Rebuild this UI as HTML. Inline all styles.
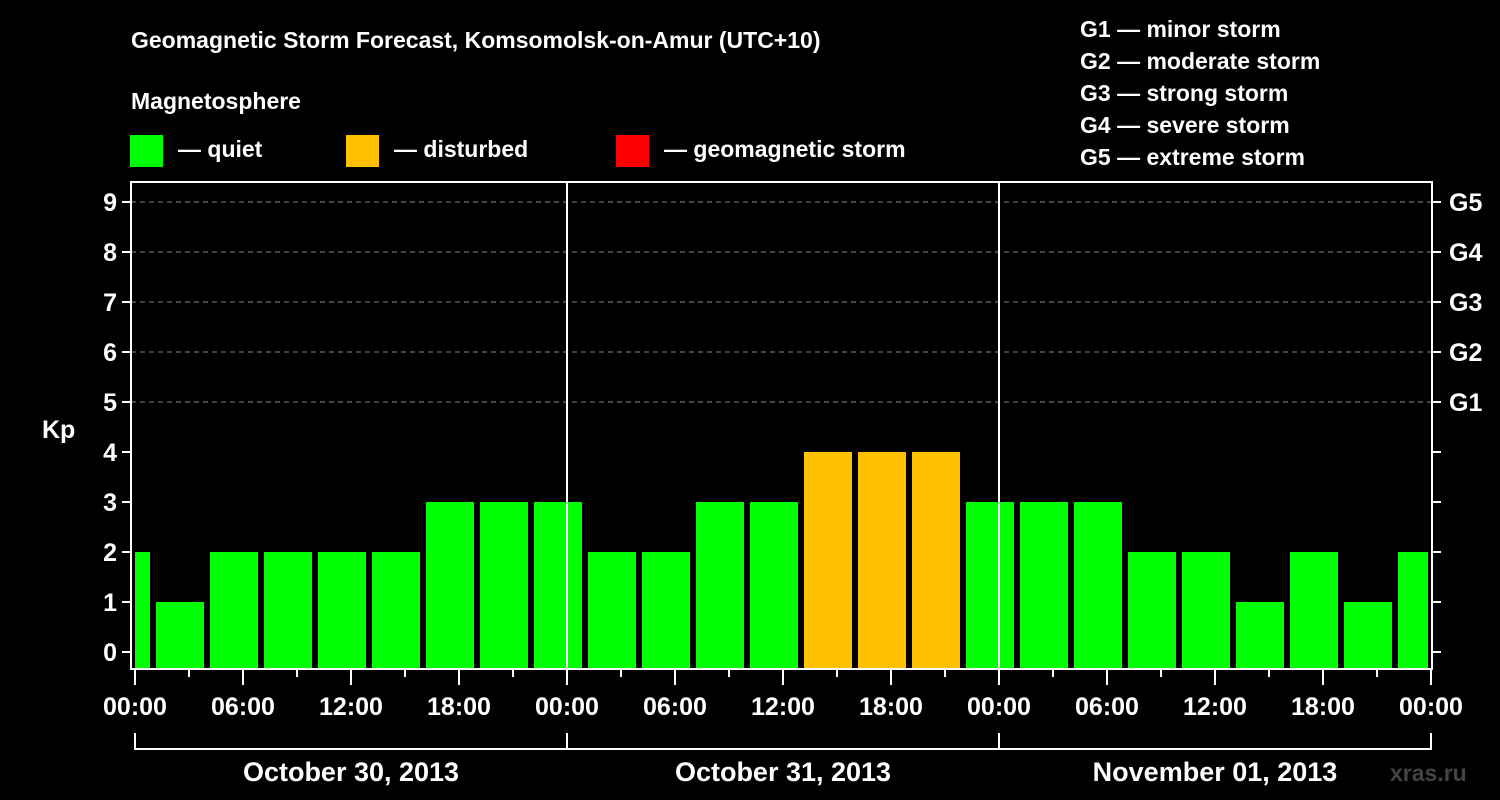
<!DOCTYPE html>
<html><head><meta charset="utf-8"><style>
body{margin:0;background:#000;width:1500px;height:800px;overflow:hidden}
svg{display:block}
text{font-family:"Liberation Sans",sans-serif;font-weight:bold;fill:#fff}
</style></head><body>
<svg id="c" width="1500" height="800">
<text x="131" y="48" font-size="23">Geomagnetic Storm Forecast, Komsomolsk-on-Amur (UTC+10)</text>
<text x="131" y="109" font-size="23">Magnetosphere</text>
<rect x="130" y="135" width="33" height="32" fill="#00ff00"/>
<text x="178" y="157" font-size="23">— quiet</text>
<rect x="346" y="135" width="33" height="32" fill="#ffc000"/>
<text x="394" y="157" font-size="23">— disturbed</text>
<rect x="616" y="135" width="33" height="32" fill="#ff0000"/>
<text x="664" y="157" font-size="23">— geomagnetic storm</text>
<text x="1080" y="37" font-size="23">G1 — minor storm</text>
<text x="1080" y="69" font-size="23">G2 — moderate storm</text>
<text x="1080" y="101" font-size="23">G3 — strong storm</text>
<text x="1080" y="133" font-size="23">G4 — severe storm</text>
<text x="1080" y="165" font-size="23">G5 — extreme storm</text>
<text x="42" y="438" font-size="25">Kp</text>
<text x="1390" y="781" font-size="23" fill="#444" style="fill:#444">xras.ru</text>
<g id="plot"></g>
</svg>
<script>
const kpValues=[2,1,2,2,2,2,3,3,3,2,2,3,3,4,4,4,3,3,3,2,2,1,2,1,2];
const blockStartHours=-2; // first 3-hour block starts at -02:00 local
const yTicks=[0,1,2,3,4,5,6,7,8,9];
const gLabels=["G1","G2","G3","G4","G5"];
const gLevels=[5,6,7,8,9];
const xTickLabels=["00:00","06:00","12:00","18:00","00:00","06:00","12:00","18:00","00:00","06:00","12:00","18:00","00:00"];
const dayLabels=["October 30, 2013","October 31, 2013","November 01, 2013"];

const NS="http://www.w3.org/2000/svg";
const g=document.getElementById('plot');
const X0=135,PXH=18,L=131,R=1432,T=182,B=669;
const xs=h=>X0+h*PXH;
const ys=v=>652-v*50;
function el(tag,attrs){const e=document.createElementNS(NS,tag);for(const k in attrs)e.setAttribute(k,attrs[k]);g.appendChild(e);return e;}
// grid
gLevels.forEach(v=>{const l=el('line',{x1:L,x2:R,y1:ys(v),y2:ys(v),stroke:'#888','stroke-dasharray':'5,4','stroke-width':1});

});
// bars
kpValues.forEach((v,i)=>{
 let a=xs(blockStartHours+i*3)+3,b=xs(blockStartHours+i*3+3)-3;
 a=Math.max(a,X0);b=Math.min(b,1428);
 const col=v>=5?'#ff0000':(v>=4?'#ffc000':'#00ff00');
 const r=el('rect',{x:a,y:ys(v),width:b-a,height:B-ys(v),fill:col});
 
 
});
// day separators
[1,2].forEach(d=>{const l=el('line',{x1:xs(d*24),x2:xs(d*24),y1:T,y2:B,stroke:'#fff','stroke-width':2});

});
// frame
const f=el('rect',{x:L,y:T,width:R-L,height:B-T,fill:'none',stroke:'#fff','stroke-width':2});


// y ticks
yTicks.forEach(v=>{
 el('line',{x1:L-9,x2:L,y1:ys(v),y2:ys(v),stroke:'#fff','stroke-width':2});
 el('line',{x1:R,x2:R+9,y1:ys(v),y2:ys(v),stroke:'#fff','stroke-width':2});
 const t=el('text',{x:L-14,y:ys(v)+9,'font-size':25,'text-anchor':'end'});t.textContent=v;
 
 
});
gLabels.forEach((s,i)=>{const t=el('text',{x:1449,y:ys(gLevels[i])+9,'font-size':25});t.textContent=s;
 
 });
// x ticks
for(let h=0;h<=72;h+=3){const maj=h%6===0;el('line',{x1:xs(h),x2:xs(h),y1:B,y2:B+(maj?16:8),stroke:'#fff','stroke-width':2});}
xTickLabels.forEach((s,i)=>{const t=el('text',{x:xs(i*6),y:715,'font-size':25,'text-anchor':'middle'});t.textContent=s;
 
 });
// day brackets
el('line',{x1:xs(0),x2:xs(72),y1:749,y2:749,stroke:'#fff','stroke-width':2});
[0,24,48,72].forEach(h=>el('line',{x1:xs(h),x2:xs(h),y1:733,y2:750,stroke:'#fff','stroke-width':2}));
dayLabels.forEach((s,i)=>{const t=el('text',{x:xs(i*24+12),y:781,'font-size':27,'text-anchor':'middle'});t.textContent=s;
 
 });
</script>
</body></html>
